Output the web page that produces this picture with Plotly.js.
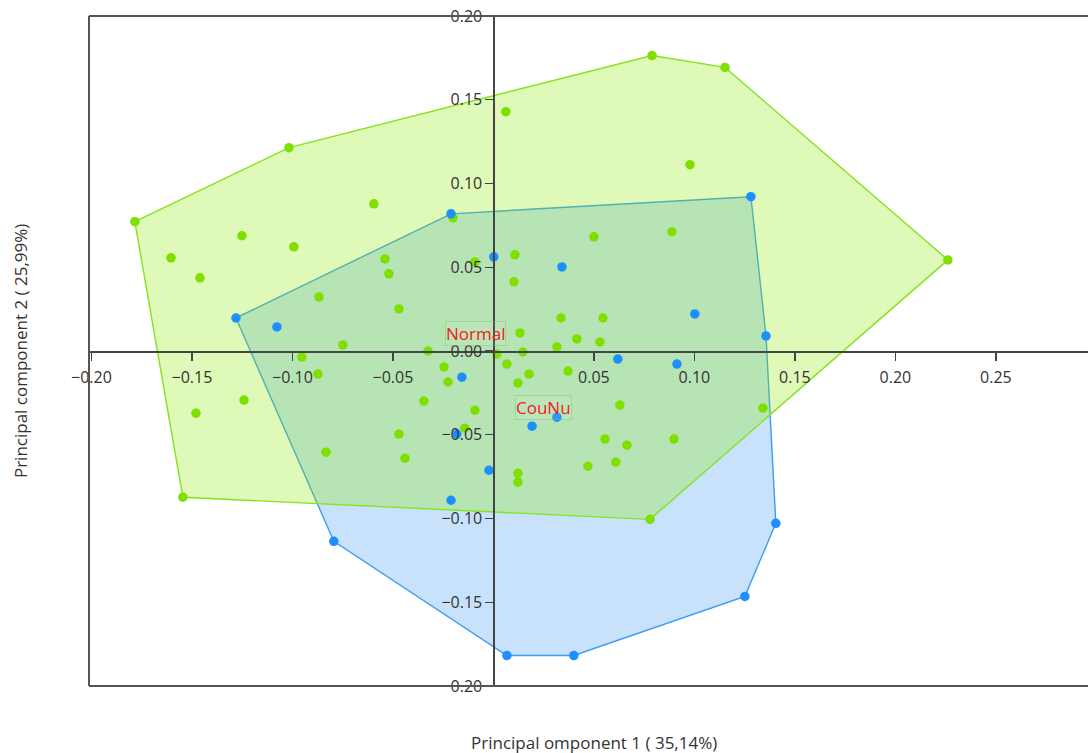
<!DOCTYPE html>
<html>
<head>
<meta charset="utf-8">
<script src="https://cdn.plot.ly/plotly-3.0.1.min.js"></script>
<style>html,body{margin:0;padding:0;overflow:hidden;background:#fff;}</style>
</head>
<body>
<div id="chart" style="width:1088px;height:753px;"></div>
<script>
// ---- Data (PCA scores) ----
const groupNames = ["Normal", "CouNu"];

const normalX = [-0.1784,-0.1017,0.0789,0.1152,0.2261,0.0779,-0.1545,0.0062,0.0978,-0.0595,
  -0.0201,-0.1251,-0.0993,-0.1604,-0.1460,-0.0540,-0.0520,-0.0868,-0.0470,-0.0749,
  -0.0953,0.0500,0.0888,-0.0092,0.0107,0.0102,0.0336,0.0545,0.0132,0.0415,
  0.0530,0.0316,-0.0326,0.0147,0.0017,-0.0246,-0.0226,-0.0346,-0.0092,-0.0142,
  -0.0470,-0.0440,0.0067,0.0177,0.0122,0.0371,0.0629,0.0555,0.0664,0.0470,
  0.0609,0.0898,0.0122,0.0122,0.1341,-0.0873,-0.1241,-0.1480,-0.0833];
const normalY = [0.0772,0.1214,0.1764,0.1693,0.0544,-0.1005,-0.0873,0.1429,0.1112,0.0879,
  0.0795,0.0688,0.0622,0.0556,0.0437,0.0550,0.0461,0.0323,0.0251,0.0036,
  -0.0036,0.0682,0.0712,0.0532,0.0574,0.0413,0.0197,0.0197,0.0108,0.0072,
  0.0054,0.0024,0.0000,-0.0006,-0.0018,-0.0096,-0.0185,-0.0299,-0.0353,-0.0461,
  -0.0496,-0.0640,-0.0078,-0.0138,-0.0191,-0.0120,-0.0323,-0.0526,-0.0562,-0.0688,
  -0.0664,-0.0526,-0.0730,-0.0783,-0.0341,-0.0138,-0.0293,-0.0371,-0.0604];

const counuX = [-0.1281,-0.1077,-0.0211,0.0002,0.0341,0.1281,0.1002,0.1356,0.0619,0.0913,
  -0.0157,0.0316,0.0192,-0.0182,-0.0022,-0.0211,0.1405,0.1251,0.0400,0.0067,-0.0794];
const counuY = [0.0197,0.0144,0.0819,0.0562,0.0502,0.0921,0.0221,0.0090,-0.0048,-0.0078,
  -0.0156,-0.0395,-0.0449,-0.0496,-0.0712,-0.0891,-0.1029,-0.1465,-0.1818,-0.1818,-0.1136];

const xTickVals = [-0.20,-0.15,-0.10,-0.05,0.05,0.10,0.15,0.20,0.25];
const yTickVals = [-0.20,-0.15,-0.10,-0.05,0.00,0.05,0.10,0.15,0.20];
const xRange = [-0.2012, 0.2958];
const yRange = [-0.20, 0.20];
const xTitle = "Principal omponent 1 ( 35,14%)";
const yTitle = "Principal component 2 ( 25,99%)";

// ---- helpers ----
function hull(xs, ys) {
  const pts = xs.map((x, i) => [x, ys[i]]).sort((a, b) => a[0] - b[0] || a[1] - b[1]);
  const cross = (o, a, b) => (a[0]-o[0])*(b[1]-o[1]) - (a[1]-o[1])*(b[0]-o[0]);
  const lower = [], upper = [];
  for (const p of pts) { while (lower.length >= 2 && cross(lower[lower.length-2], lower[lower.length-1], p) <= 0) lower.pop(); lower.push(p); }
  for (let i = pts.length - 1; i >= 0; i--) { const p = pts[i]; while (upper.length >= 2 && cross(upper[upper.length-2], upper[upper.length-1], p) <= 0) upper.pop(); upper.push(p); }
  const h = lower.slice(0, -1).concat(upper.slice(0, -1));
  h.push(h[0]);
  return {x: h.map(p => p[0]), y: h.map(p => p[1])};
}
const mean = a => a.reduce((s, v) => s + v, 0) / a.length;

const hN = hull(normalX, normalY);
const hC = hull(counuX, counuY);

const FONT = "'Open Sans', 'Noto Sans', sans-serif";

const traces = [
  {x: hC.x, y: hC.y, mode: 'lines', fill: 'toself', fillcolor: 'rgba(40,140,240,0.25)',
   line: {color: '#3d9cf0', width: 1.4}, hoverinfo: 'skip', showlegend: false},
  {x: hN.x, y: hN.y, mode: 'lines', fill: 'toself', fillcolor: 'rgba(135,235,0,0.28)',
   line: {color: '#84e41c', width: 1.4}, hoverinfo: 'skip', showlegend: false},
  {x: normalX, y: normalY, mode: 'markers', name: groupNames[0],
   marker: {color: '#7fe000', size: 9.5}, showlegend: false},
  {x: counuX, y: counuY, mode: 'markers', name: groupNames[1],
   marker: {color: '#1e8fff', size: 9.5}, showlegend: false}
];

const yAxisPos = (0 - xRange[0]) / (xRange[1] - xRange[0]);
const xAxisPos = (0 - yRange[0]) / (yRange[1] - yRange[0]);

const tickFont = {family: FONT, size: 16, color: '#333'};

const layout = {
  width: 1088, height: 753,
  margin: {l: 89, r: 0, t: 16, b: 67, pad: 0},
  paper_bgcolor: '#fff', plot_bgcolor: '#fff',
  showlegend: false,
  xaxis: {range: xRange, anchor: 'free', position: xAxisPos, showgrid: false, zeroline: false,
    showline: true, linecolor: '#444', linewidth: 1.6, ticks: 'outside', ticklen: 8, tickwidth: 1.4,
    tickcolor: '#444', tickvals: xTickVals, tickformat: '.2f', tickfont: tickFont, automargin: false,
    ticklabelstandoff: 3},
  yaxis: {range: yRange, anchor: 'free', position: yAxisPos, showgrid: false, zeroline: false,
    showline: true, linecolor: '#444', linewidth: 1.6, ticks: 'outside', ticklen: 8, tickwidth: 1.4,
    tickcolor: '#444', tickvals: yTickVals, tickformat: '.2f', tickfont: tickFont, automargin: false},
  shapes: [
    {type: 'line', xref: 'paper', yref: 'paper', x0: 0, x1: 0, y0: 0, y1: 1, line: {color: '#555', width: 2}, layer: 'above'},
    {type: 'line', xref: 'paper', yref: 'paper', x0: 0, x1: 1, y0: 1, y1: 1, line: {color: '#555', width: 2}, layer: 'above'},
    {type: 'line', xref: 'paper', yref: 'paper', x0: 0, x1: 1, y0: 0, y1: 0, line: {color: '#555', width: 2}, layer: 'above'}
  ],
  annotations: [
    {x: mean(normalX), y: mean(normalY), xref: 'x', yref: 'y', text: groupNames[0], showarrow: false,
     font: {family: FONT, size: 17, color: '#f02020'}, bordercolor: 'rgba(120,200,120,0.45)', borderwidth: 1,
     borderpad: 0, bgcolor: 'rgba(255,255,255,0.08)', xanchor: 'center', yanchor: 'middle'},
    {x: mean(counuX), y: mean(counuY), xref: 'x', yref: 'y', text: groupNames[1], showarrow: false,
     font: {family: FONT, size: 17, color: '#f02020'}, bordercolor: 'rgba(120,200,120,0.45)', borderwidth: 1,
     borderpad: 0, bgcolor: 'rgba(255,255,255,0.08)', xanchor: 'center', yanchor: 'middle'},
    {x: 0.5055, y: -0.0836, xref: 'paper', yref: 'paper', text: xTitle, showarrow: false,
     font: {family: FONT, size: 17, color: '#333'}, xanchor: 'center', yanchor: 'middle'},
    {x: -0.069, y: 0.5, xref: 'paper', yref: 'paper', text: yTitle, showarrow: false, textangle: -90,
     font: {family: FONT, size: 17, color: '#333'}, xanchor: 'center', yanchor: 'middle'}
  ]
};

Plotly.newPlot('chart', traces, layout, {displayModeBar: false, staticPlot: true});
</script>
</body>
</html>
